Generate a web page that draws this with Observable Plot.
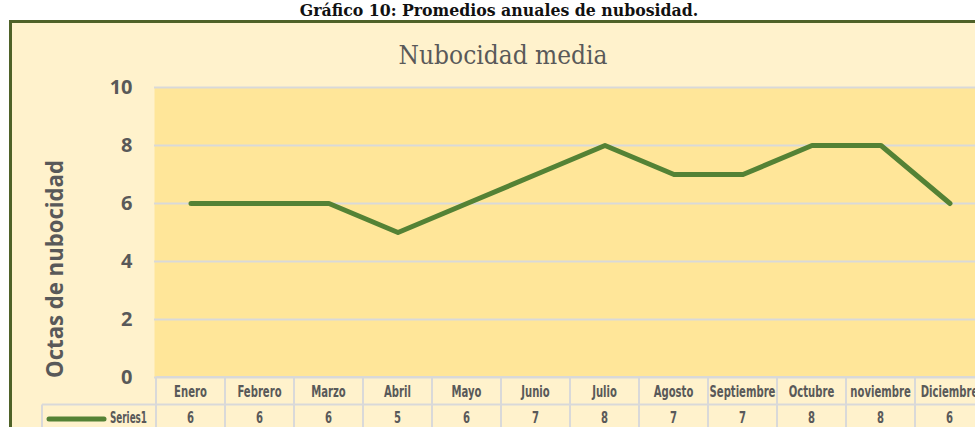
<!DOCTYPE html>
<html><head><meta charset="utf-8">
<script src="https://cdn.jsdelivr.net/npm/d3@7"></script>
<script src="https://cdn.jsdelivr.net/npm/@observablehq/plot@0.6"></script>
<style>
body{margin:0;background:#fff;}
#wrap{position:relative;width:975px;height:427px;overflow:hidden;}
#caption{position:absolute;left:0;top:0px;width:998px;text-align:center;font:bold 17.5px "DejaVu Serif Condensed","DejaVu Serif",serif;line-height:20px;color:#111;}
#box{position:absolute;left:9px;top:20px;width:1100px;height:500px;border-left:3px solid #4F6228;border-top:3px solid #4F6228;background:#FFF2CC;}
#title{position:absolute;left:0;top:39px;width:1006px;text-align:center;font:26px "DejaVu Serif Condensed","DejaVu Serif",serif;line-height:32px;color:#595959;}
#chart{position:absolute;left:0;top:20px;}
</style>
</head><body>
<div id="wrap">
  <div id="box"></div>
  <div id="caption"></div>
  <div id="title"></div>
  <div id="chart"></div>
</div>
<script>
const captionText = "Gráfico 10: Promedios anuales de nubosidad.";
const titleText = "Nubocidad media";
const yLabel = "Octas de nubocidad";
const seriesName = "Series1";
const months = ["Enero","Febrero","Marzo","Abril","Mayo","Junio","Julio","Agosto","Septiembre","Octubre","noviembre","Diciembre"];
const values = [6,6,6,5,6,7,8,7,7,8,8,6];
const yTicks = [0,2,4,6,8,10];

document.getElementById("caption").textContent = captionText;
document.getElementById("title").textContent = titleText;

const data = months.map((m,i)=>({month:m, value:values[i]}));
const gray = "#595959", grid = "#D9D9D9", green = "#548235";

const chart = Plot.plot({
  width: 975, height: 407,
  marginTop: 67, marginBottom: 50, marginLeft: 154, marginRight: -11,
  style: {background: "transparent", overflow: "visible", fontFamily: "'Open Sans', sans-serif", fontSize: "20px", fontWeight: "bold", color: gray},
  x: {type: "band", domain: months, padding: 0, axis: null},
  y: {domain: [0,10], ticks: yTicks, tickSize: 0, tickPadding: 22, label: null},
  marks: [
    Plot.frame({fill: "#FFE699", stroke: null}),
    Plot.ruleY(yTicks, {stroke: grid, strokeWidth: 2}),
    Plot.line(data, {x: "month", y: "value", stroke: green, strokeWidth: 5, strokeLinecap: "round", strokeLinejoin: "round"})
  ]
});
document.getElementById("chart").appendChild(chart);

const svgNode = chart.tagName.toLowerCase()==="svg" ? chart : chart.querySelector("svg");
const svg = d3.select(svgNode);

// y axis title
svg.append("text")
  .attr("transform", "translate(63,249) rotate(-90)")
  .attr("text-anchor", "middle")
  .attr("font-family", "'Open Sans', sans-serif").attr("font-size", 23).attr("font-weight", "bold")
  .attr("fill", gray).attr("textLength", 218).attr("lengthAdjust", "spacingAndGlyphs")
  .text(yLabel);

// data table under the plot, positioned with the plot's own x scale
const xs = chart.scale("x");
const bw = xs.bandwidth;
const g = svg.append("g");
const row1Top = 357, row2Top = 384.5, bottom = 420;
const x0 = xs.apply(months[0]);
const xEnd = xs.apply(months[months.length-1]) + bw;
const tableFont = "'DejaVu Sans Condensed','DejaVu Sans',sans-serif";
const line = (x1,y1,x2,y2) => g.append("line").attr("x1",x1).attr("x2",x2).attr("y1",y1).attr("y2",y2).attr("stroke",grid).attr("stroke-width",2);
line(x0, row1Top, xEnd, row1Top);
line(42, row2Top, xEnd, row2Top);
months.forEach(m => { const x = xs.apply(m); line(x, row1Top, x, bottom); });
line(xEnd, row1Top, xEnd, bottom);
line(42, row2Top, 42, bottom);

const label = (x, y, txt, anchor, sx) => g.append("text")
  .attr("transform", `translate(${x},${y}) scale(${sx || 0.8},1.08)`)
  .attr("text-anchor", anchor || "middle")
  .attr("font-family", tableFont).attr("font-size", 14).attr("font-weight", "bold")
  .attr("fill", gray).text(txt);
months.forEach((m,i) => {
  const cx = xs.apply(m) + bw/2;
  label(cx, 377, m);
  label(cx, 403, values[i]);
});
// legend key
g.append("line").attr("x1", 49).attr("x2", 104).attr("y1", 399).attr("y2", 399)
  .attr("stroke", green).attr("stroke-width", 5).attr("stroke-linecap", "round");
label(147, 403, seriesName, "end", 0.7);
</script>
</body></html>
